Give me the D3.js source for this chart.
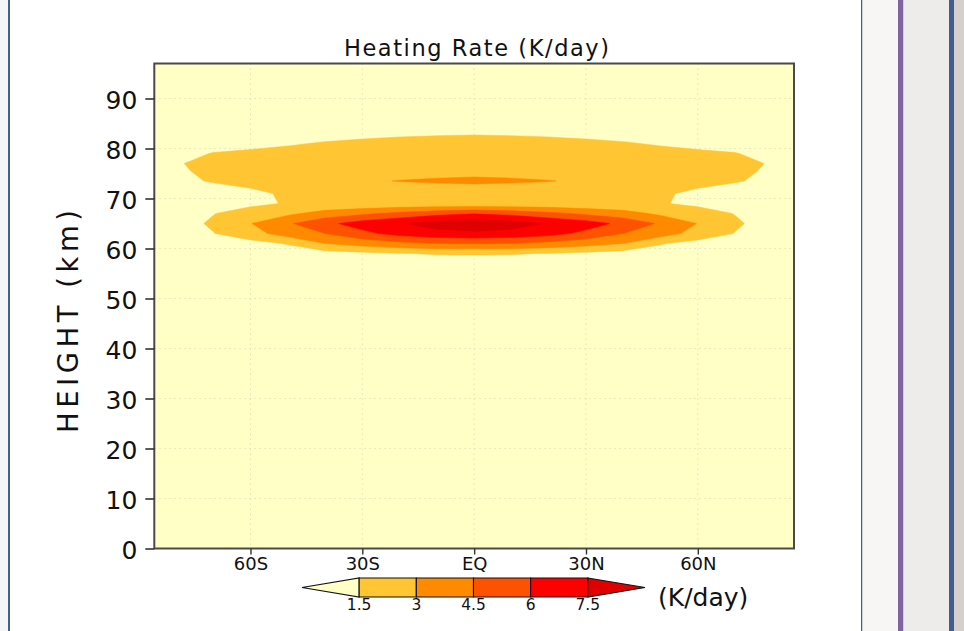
<!DOCTYPE html>
<html>
<head>
<meta charset="utf-8">
<script src="https://cdn.jsdelivr.net/npm/d3@7"></script>
<style>
  html, body { margin:0; padding:0; background:#fff; }
  svg { display:block; }
  text { font-family: "DejaVu Sans", sans-serif; fill:#111; }
</style>
</head>
<body>
<div id="chart"></div>
<script>
// grid columns : latitude (deg, south negative)
var lats = [-85.8,-80,-70,-60,-50,-40,-30,-20,-10,0,10,20,30,40,50,60,70,80,85.8];
// grid rows : height (km)
var heights = [0,50,57,59,61,63,65,67,69,71,73.5,75.5,77,79,81,83,86,90,97];
// heating rate (K/day), one row per height
var rate = [
  [0.3,0.3,0.3,0.3,0.3,0.3,0.3,0.3,0.3,0.3,0.3,0.3,0.3,0.3,0.3,0.3,0.3,0.3,0.3],            // 0
  [0.3,0.35,0.4,0.45,0.5,0.5,0.55,0.6,0.6,0.6,0.6,0.6,0.55,0.5,0.5,0.45,0.4,0.35,0.3],       // 50
  [0.3,0.3,0.4,0.5,0.6,0.7,0.8,0.85,0.9,0.9,0.9,0.85,0.8,0.7,0.6,0.5,0.4,0.3,0.3],           // 57
  [0.3,0.3,0.4,0.6,0.8,0.9,1.2,1.45,1.58,1.6,1.58,1.45,1.2,0.9,0.8,0.6,0.4,0.3,0.3],         // 59
  [0.3,0.4,0.7,1.0,1.6,3.0,3.6,4.1,4.5,4.6,4.5,4.1,3.6,3.0,1.6,1.0,0.7,0.4,0.3],             // 61
  [0.5,0.8,1.45,2.4,3.7,4.5,5.6,6.5,7.0,7.2,7.0,6.5,5.6,4.5,3.7,2.4,1.45,0.8,0.5],           // 63
  [0.5,0.9,1.7,2.95,4.3,5.6,6.7,7.4,8.2,8.6,8.2,7.4,6.7,5.6,4.3,2.95,1.7,0.9,0.5],           // 65
  [0.5,0.8,1.45,2.1,2.7,3.6,4.2,4.9,5.5,5.9,5.5,4.9,4.2,3.6,2.7,2.1,1.45,0.8,0.5],           // 67
  [0.4,0.6,0.9,1.2,1.6,1.7,1.75,1.8,1.8,1.8,1.8,1.8,1.75,1.7,1.6,1.2,0.9,0.6,0.4],           // 69
  [0.4,0.6,0.9,1.2,1.7,1.9,1.95,2.0,2.0,2.0,2.0,2.0,1.95,1.9,1.7,1.2,0.9,0.6,0.4],           // 71
  [0.9,1.2,1.6,1.9,2.2,2.5,2.8,3.05,3.2,3.3,3.2,3.05,2.8,2.5,2.2,1.9,1.6,1.2,0.9],           // 73.5
  [1.0,1.3,1.8,2.0,2.1,2.2,2.3,2.4,2.5,2.55,2.5,2.4,2.3,2.2,2.1,2.0,1.8,1.3,1.0],            // 75.5
  [1.0,1.4,1.85,1.95,2.0,2.1,2.2,2.3,2.35,2.4,2.35,2.3,2.2,2.1,2.0,1.95,1.85,1.4,1.0],        // 77
  [0.8,1.1,1.55,1.7,1.8,1.9,2.0,2.1,2.15,2.2,2.15,2.1,2.0,1.9,1.8,1.7,1.55,1.1,0.8],         // 79
  [0.6,0.8,1.0,1.2,1.4,1.58,1.7,1.8,1.85,1.9,1.85,1.8,1.7,1.58,1.4,1.2,1.0,0.8,0.6],         // 81
  [0.5,0.6,0.8,0.9,1.0,1.15,1.25,1.34,1.4,1.43,1.4,1.34,1.25,1.15,1.0,0.9,0.8,0.6,0.5],      // 83
  [0.4,0.45,0.55,0.6,0.7,0.75,0.8,0.85,0.9,0.9,0.9,0.85,0.8,0.75,0.7,0.6,0.55,0.45,0.4],     // 86
  [0.3,0.35,0.4,0.45,0.5,0.5,0.55,0.6,0.6,0.6,0.6,0.6,0.55,0.5,0.5,0.45,0.4,0.35,0.3],       // 90
  [0.35,0.35,0.35,0.35,0.35,0.35,0.35,0.35,0.35,0.35,0.35,0.35,0.35,0.35,0.35,0.35,0.35,0.35,0.35] // 97
];
// contour levels and fill colours (first colour = below first level)
var levels = [1.5, 3, 4.5, 6, 7.5];
var levelColors = ["#ffffc6", "#ffc533", "#ff8a00", "#ff5200", "#ff0000", "#e00000"];
var levelLabels = ["1.5", "3", "4.5", "6", "7.5"];
// axes
var latTicks = [-60, -30, 0, 30, 60];
var latLabels = ["60S", "30S", "EQ", "30N", "60N"];
var hTicks = [0, 10, 20, 30, 40, 50, 60, 70, 80, 90];

var W = 964, H = 631;
var box = {left: 154.3, right: 794, top: 63.5, bottom: 548.5};

var svg = d3.select("#chart").append("svg").attr("width", W).attr("height", H);

// ---- page decoration (window frame around the figure)
var page = svg.append("g").attr("id", "page");
page.append("rect").attr("x", 0).attr("y", 0).attr("width", W).attr("height", H).attr("fill", "#f5f5f5");
page.append("rect").attr("x", 10).attr("y", 0).attr("width", 851).attr("height", H).attr("fill", "#ffffff");
page.append("rect").attr("x", 8).attr("y", 0).attr("width", 2).attr("height", H).attr("fill", "#3d6096");
page.append("rect").attr("x", 861).attr("y", 0).attr("width", 1.5).attr("height", H).attr("fill", "#3d6096");
page.append("rect").attr("x", 862.5).attr("y", 0).attr("width", 35.5).attr("height", H).attr("fill", "#f7f6f5");
page.append("rect").attr("x", 898).attr("y", 0).attr("width", 5.5).attr("height", H).attr("fill", "#8064a2");
page.append("rect").attr("x", 903.5).attr("y", 0).attr("width", 45.5).attr("height", H).attr("fill", "#eeeceb");
page.append("rect").attr("x", 949).attr("y", 0).attr("width", 5).attr("height", H).attr("fill", "#3b5f92");
page.append("rect").attr("x", 954).attr("y", 0).attr("width", 10).attr("height", H).attr("fill", "#d6d0cc");

// ---- scales
var x = d3.scaleLinear().domain([-85.8, 85.8]).range([box.left, box.right]);
var y = d3.scaleLinear().domain([0, 97]).range([box.bottom, box.top]);

var plot = svg.append("g").attr("id", "plot");
plot.append("rect")
    .attr("x", box.left).attr("y", box.top)
    .attr("width", box.right - box.left).attr("height", box.bottom - box.top)
    .attr("fill", levelColors[0]);

// dotted grid
var grid = plot.append("g").attr("id", "grid")
    .attr("stroke", "#e4e4bc").attr("stroke-width", 1).attr("stroke-dasharray", "1.5,3.5");
grid.selectAll(".gy").data(hTicks.filter(d => d > 0)).enter().append("line")
    .attr("x1", box.left).attr("x2", box.right)
    .attr("y1", d => y(d)).attr("y2", d => y(d));
grid.selectAll(".gx").data(latTicks).enter().append("line")
    .attr("y1", box.top).attr("y2", box.bottom)
    .attr("x1", d => x(d)).attr("x2", d => x(d));

// ---- filled contours
var nx = lats.length, ny = heights.length;
var values = [];
rate.forEach(function(row){ row.forEach(function(v){ values.push(v); }); });

// grid index (d3.contours puts value i at i+0.5) -> data coordinate
function gridToCoord(c, arr){
    var g = Math.max(0, Math.min(arr.length - 1, c - 0.5));
    var i = Math.min(arr.length - 2, Math.floor(g));
    var t = g - i;
    return arr[i] + t * (arr[i+1] - arr[i]);
}
var proj = d3.geoTransform({
    point: function(cx, cy){
        this.stream.point(x(gridToCoord(cx, lats)), y(gridToCoord(cy, heights)));
    }
});
var cpath = d3.geoPath(proj);

var contours = d3.contours().size([nx, ny]).thresholds(levels)(values);
plot.append("g").attr("id", "fills").selectAll("path").data(contours).enter().append("path")
    .attr("d", cpath)
    .attr("fill", (d, i) => levelColors[i + 1])
    .attr("stroke", (d, i) => levelColors[i + 1])
    .attr("stroke-width", 0.5);

// frame
plot.append("rect")
    .attr("x", box.left).attr("y", box.top)
    .attr("width", box.right - box.left).attr("height", box.bottom - box.top)
    .attr("fill", "none").attr("stroke", "#4a4a4a").attr("stroke-width", 2);

// ---- axes
var yAxis = svg.append("g").attr("transform", "translate(" + box.left + ",0)")
    .call(d3.axisLeft(y).tickValues(hTicks).tickSize(9).tickPadding(8));
yAxis.select(".domain").remove();
yAxis.selectAll(".tick line").attr("stroke", "#333").attr("stroke-width", 1.6);
yAxis.selectAll(".tick text").attr("font-size", 25).attr("dy", "0.4em")
    .attr("font-family", "DejaVu Sans").attr("fill", "#111");

var xAxis = svg.append("g").attr("transform", "translate(0," + box.bottom + ")")
    .call(d3.axisBottom(x).tickValues(latTicks).tickSize(6).tickPadding(3)
        .tickFormat((d, i) => latLabels[i]));
xAxis.select(".domain").remove();
xAxis.selectAll(".tick line").attr("stroke", "#333").attr("stroke-width", 1.4);
xAxis.selectAll(".tick text").attr("font-size", 18)
    .attr("font-family", "DejaVu Sans").attr("fill", "#111");

// titles
svg.append("text").attr("x", 476.5).attr("y", 56).attr("text-anchor", "middle")
    .attr("font-size", 22.5).attr("textLength", 265).attr("lengthAdjust", "spacing")
    .text("Heating Rate (K/day)");
svg.append("text").attr("transform", "translate(78,321.5) rotate(-90)").attr("text-anchor", "middle")
    .attr("font-size", 27.5).attr("textLength", 223).attr("lengthAdjust", "spacing")
    .text("HEIGHT (km)");

// ---- label bar
var cb = {x0: 302, x1: 645, top: 578, bottom: 597};
var cbx = d3.scaleLinear().domain([0, levelColors.length]).range([cb.x0, cb.x1]);
var cbMid = (cb.top + cb.bottom) / 2;
var bar = svg.append("g").attr("id", "labelbar");
bar.selectAll("path").data(levelColors).enter().append("path")
    .attr("d", function(d, i){
        var a = cbx(i), b = cbx(i + 1);
        if (i === 0) return "M" + a + "," + cbMid + "L" + b + "," + cb.top + "L" + b + "," + cb.bottom + "Z";
        if (i === levelColors.length - 1) return "M" + a + "," + cb.top + "L" + b + "," + cbMid + "L" + a + "," + cb.bottom + "Z";
        return "M" + a + "," + cb.top + "H" + b + "V" + cb.bottom + "H" + a + "Z";
    })
    .attr("fill", d => d)
    .attr("stroke", "#111").attr("stroke-width", 1.1).attr("stroke-linejoin", "miter");
bar.selectAll("text").data(levelLabels).enter().append("text")
    .attr("x", (d, i) => cbx(i + 1)).attr("y", 610)
    .attr("text-anchor", "middle").attr("font-size", 15.5)
    .text(d => d);
bar.append("text").attr("x", 658).attr("y", 605.5).attr("font-size", 25).text("(K/day)");
</script>
</body>
</html>
